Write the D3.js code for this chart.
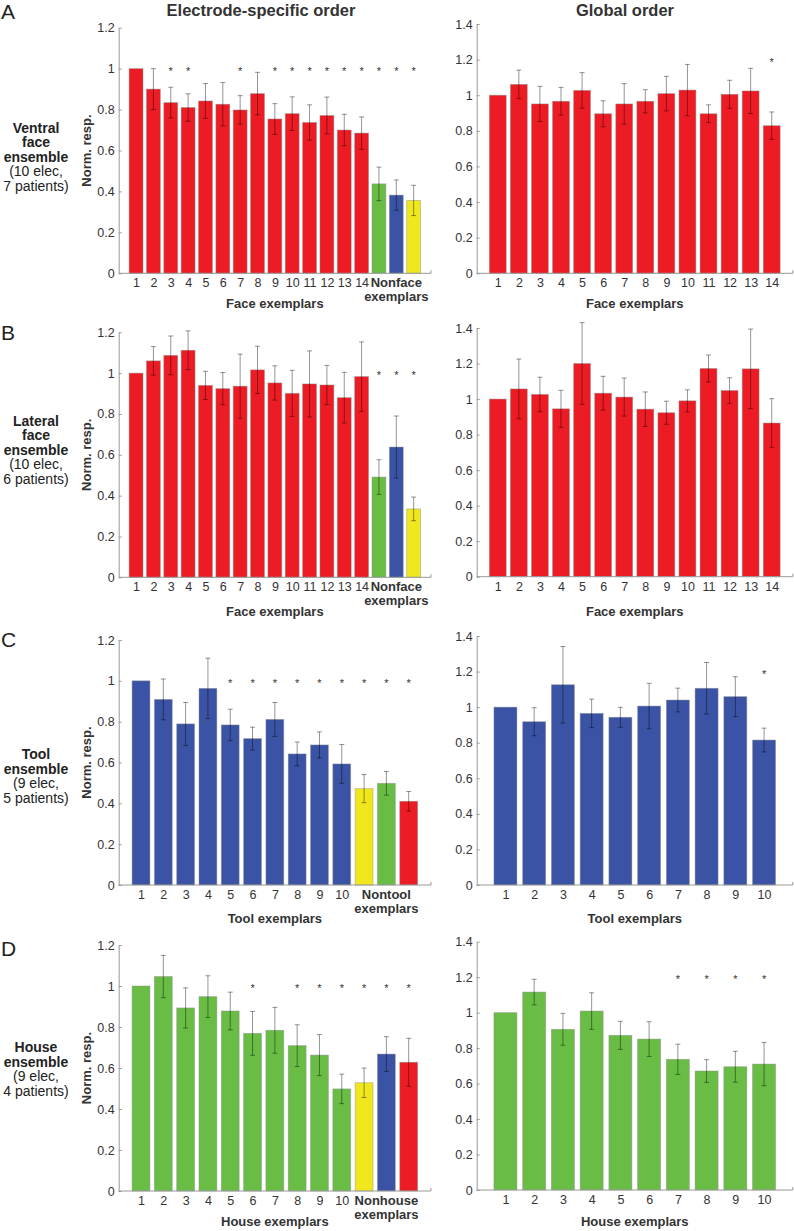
<!DOCTYPE html>
<html><head><meta charset="utf-8">
<script src="https://cdn.jsdelivr.net/npm/d3@7"></script>
<style>body{margin:0;background:#fff;} svg{display:block;font-family:"Liberation Sans",Arial,sans-serif;}</style>
</head><body><svg id="c" width="794" height="1231"></svg>
<script>
// ---------- DATA ----------
const faceTicks = ["1","2","3","4","5","6","7","8","9","10","11","12","13","14"];
const objTicks = ["1","2","3","4","5","6","7","8","9","10"];

// A: Ventral face ensemble
const aLeftValues = [1.0,0.90,0.834,0.81,0.842,0.826,0.798,0.878,0.754,0.78,0.737,0.771,0.70,0.685,0.437,0.382,0.356];
const aLeftErrors = [0,0.10,0.075,0.067,0.085,0.106,0.07,0.104,0.075,0.082,0.086,0.09,0.077,0.079,0.082,0.074,0.074];
const aLeftCats = ["face","face","face","face","face","face","face","face","face","face","face","face","face","face","house","tool","other"];
const aLeftStars = [3,4,7,9,10,11,12,13,14,15,16,17];
const aRightValues = [1.0,1.061,0.951,0.966,1.027,0.896,0.951,0.966,1.009,1.029,0.896,1.005,1.024,0.829];
const aRightErrors = [0,0.08,0.099,0.078,0.10,0.073,0.114,0.065,0.097,0.144,0.05,0.079,0.127,0.077];
const aRightStars = [14];

// B: Lateral face ensemble
const bLeftValues = [1.0,1.06,1.087,1.112,0.94,0.924,0.936,1.016,0.952,0.901,0.947,0.942,0.88,0.983,0.491,0.638,0.335];
const bLeftErrors = [0,0.07,0.095,0.095,0.069,0.079,0.157,0.116,0.084,0.113,0.162,0.096,0.124,0.17,0.085,0.152,0.058];
const bLeftCats = ["face","face","face","face","face","face","face","face","face","face","face","face","face","face","house","tool","other"];
const bLeftStars = [15,16,17];
const bRightValues = [1.0,1.057,1.026,0.945,1.2,1.033,1.011,0.943,0.923,0.99,1.172,1.048,1.17,0.865];
const bRightErrors = [0,0.168,0.097,0.104,0.23,0.095,0.107,0.097,0.065,0.062,0.076,0.072,0.224,0.137];
const bRightStars = [];

// C: Tool ensemble
const cLeftValues = [1.0,0.909,0.789,0.963,0.784,0.717,0.811,0.642,0.686,0.593,0.472,0.498,0.41];
const cLeftErrors = [0,0.10,0.105,0.148,0.077,0.056,0.083,0.058,0.064,0.095,0.069,0.058,0.048];
const cLeftCats = ["tool","tool","tool","tool","tool","tool","tool","tool","tool","tool","other","house","face"];
const cLeftStars = [5,6,7,8,9,10,11,12,13];
const cRightValues = [1.0,0.918,1.126,0.965,0.943,1.006,1.04,1.106,1.059,0.815];
const cRightErrors = [0,0.079,0.215,0.08,0.056,0.128,0.067,0.145,0.112,0.067];
const cRightStars = [10];

// D: House ensemble
const dLeftValues = [1.0,1.046,0.893,0.948,0.878,0.769,0.784,0.709,0.663,0.498,0.528,0.668,0.628];
const dLeftErrors = [0,0.103,0.098,0.102,0.092,0.107,0.112,0.102,0.10,0.072,0.072,0.085,0.117];
const dLeftCats = ["house","house","house","house","house","house","house","house","house","house","other","tool","face"];
const dLeftStars = [6,8,9,10,11,12,13];
const dRightValues = [1.0,1.116,0.906,1.009,0.872,0.851,0.737,0.671,0.695,0.71];
const dRightErrors = [0,0.072,0.09,0.103,0.079,0.098,0.085,0.064,0.087,0.122];
const dRightStars = [7,8,9,10];

const leftYTicks = [0,0.2,0.4,0.6,0.8,1,1.2];
const rightYTicks = [0,0.2,0.4,0.6,0.8,1,1.2,1.4];

const colorOf = {face:"#ED1C24", tool:"#3A53A4", house:"#69BD45", other:"#F0E81C"};

// ---------- LAYOUT ----------
const rows = [
  {letter:"A", letterY:11, lTop:27.7, lBot:273.3, rTop:24, rBot:273.3, labelY0:127.7,
   label:[["Ventral",1],["face",1],["ensemble",1],["(10 elec,",0],["7 patients)",0]],
   xTitle:"Face exemplars", otherTitle:"Nonface", xTitleY:303, ticks:faceTicks, main:"face",
   left:{v:aLeftValues,e:aLeftErrors,c:aLeftCats,s:aLeftStars},
   right:{v:aRightValues,e:aRightErrors,s:aRightStars}},
  {letter:"B", letterY:332, lTop:332.3, lBot:577.3, rTop:328, rBot:576.7, labelY0:420.7,
   label:[["Lateral",1],["face",1],["ensemble",1],["(10 elec,",0],["6 patients)",0]],
   xTitle:"Face exemplars", otherTitle:"Nonface", xTitleY:611, ticks:faceTicks, main:"face",
   left:{v:bLeftValues,e:bLeftErrors,c:bLeftCats,s:bLeftStars},
   right:{v:bRightValues,e:bRightErrors,s:bRightStars}},
  {letter:"C", letterY:639, lTop:640, lBot:885, rTop:636, rBot:885, labelY0:754,
   label:[["Tool",1],["ensemble",1],["(9 elec,",0],["5 patients)",0]],
   xTitle:"Tool exemplars", otherTitle:"Nontool", xTitleY:918, ticks:objTicks, main:"tool",
   left:{v:cLeftValues,e:cLeftErrors,c:cLeftCats,s:cLeftStars},
   right:{v:cRightValues,e:cRightErrors,s:cRightStars}},
  {letter:"D", letterY:948, lTop:945, lBot:1191, rTop:941.7, rBot:1190, labelY0:1047.3,
   label:[["House",1],["ensemble",1],["(9 elec,",0],["4 patients)",0]],
   xTitle:"House exemplars", otherTitle:"Nonhouse", xTitleY:1221.7, ticks:objTicks, main:"house",
   left:{v:dLeftValues,e:dLeftErrors,c:dLeftCats,s:dLeftStars},
   right:{v:dRightValues,e:dRightErrors,s:dRightStars}}
];

const svg = d3.select("#c");
const TXT = "#333";
const AX = "#999";

svg.append("text").attr("x",261).attr("y",10).attr("text-anchor","middle").attr("dominant-baseline","central")
  .attr("font-weight","bold").attr("font-size",16.5).attr("fill","#333").text("Electrode-specific order");
svg.append("text").attr("x",625).attr("y",10).attr("text-anchor","middle").attr("dominant-baseline","central")
  .attr("font-weight","bold").attr("font-size",16.5).attr("fill","#333").text("Global order");

function drawPanel(g, cfg) {
  const {x0,x1,top,bot,yMax,yTicks,values,errors,cats,stars,starVal,ticks,xTitle,xTitleY,otherTitle} = cfg;
  const n = values.length;
  const x = d3.scaleLinear().domain([0,n+1]).range([x0,x1]);
  const y = d3.scaleLinear().domain([0,yMax]).range([bot,top]);
  const bw = x(0.8)-x(0);

  // bars
  g.selectAll("rect.bar").data(values).join("rect").attr("class","bar")
    .attr("x",(d,i)=>x(i+1)-bw/2).attr("width",bw)
    .attr("y",d=>y(d)).attr("height",d=>y(0)-y(d))
    .attr("fill",(d,i)=>colorOf[cats[i]])
    .attr("stroke","rgba(140,140,140,0.55)").attr("stroke-width",0.8);

  // error bars
  const eb = g.selectAll("g.eb").data(values.map((v,i)=>({v,e:errors[i],i})).filter(d=>d.e>0)).join("g").attr("class","eb")
    .attr("stroke","#000").attr("stroke-opacity",0.42).attr("stroke-width",1);
  eb.append("line").attr("x1",d=>x(d.i+1)).attr("x2",d=>x(d.i+1)).attr("y1",d=>y(d.v+d.e)).attr("y2",d=>y(d.v-d.e));
  eb.append("line").attr("x1",d=>x(d.i+1)-2.5).attr("x2",d=>x(d.i+1)+2.5).attr("y1",d=>y(d.v+d.e)).attr("y2",d=>y(d.v+d.e));
  eb.append("line").attr("x1",d=>x(d.i+1)-2.5).attr("x2",d=>x(d.i+1)+2.5).attr("y1",d=>y(d.v-d.e)).attr("y2",d=>y(d.v-d.e));

  // stars
  g.selectAll("text.star").data(stars).join("text").attr("class","star")
    .attr("x",d=>x(d)).attr("y",y(starVal)+6).attr("text-anchor","middle")
    .attr("font-size",11).attr("fill","#333").text("*");

  // y axis
  const ya = g.append("g").attr("transform",`translate(${x0},0)`)
    .call(d3.axisLeft(y).tickValues(yTicks).tickFormat(v=>String(+v.toFixed(1))).tickSizeInner(-3).tickSizeOuter(0).tickPadding(4));
  ya.select(".domain").attr("stroke",AX);
  ya.selectAll(".tick line").attr("stroke",AX);
  ya.selectAll("text").attr("font-size",12.5).attr("fill",TXT).attr("font-family","Liberation Sans, Arial, sans-serif");

  // x axis (numbered exemplars)
  const xa = g.append("g").attr("transform",`translate(0,${bot})`)
    .call(d3.axisBottom(x).tickValues(ticks.map((t,i)=>i+1)).tickFormat((d,i)=>ticks[i]).tickSize(0).tickPadding(5));
  xa.select(".domain").remove();
  xa.selectAll("text").attr("font-size",12.5).attr("fill",TXT).attr("font-family","Liberation Sans, Arial, sans-serif");
  g.append("line").attr("x1",x.range()[0]).attr("x2",x.range()[1]).attr("y1",bot).attr("y2",bot).attr("stroke",AX);
  g.append("line").attr("x1",x.range()[1]).attr("x2",x.range()[1]).attr("y1",bot).attr("y2",bot-3).attr("stroke",AX);

  // x title
  g.append("text").attr("x",(x0+x1)/2).attr("y",xTitleY).attr("text-anchor","middle").attr("dominant-baseline","central")
    .attr("font-weight","bold").attr("font-size",13).attr("fill",TXT).text(xTitle);

  if (otherTitle) {
    const cx = x(n-1);
    g.append("text").attr("x",cx).attr("y",bot+9.5).attr("text-anchor","middle").attr("dominant-baseline","central")
      .attr("font-weight","bold").attr("font-size",13).attr("fill",TXT).text(otherTitle);
    g.append("text").attr("x",cx).attr("y",bot+23.5).attr("text-anchor","middle").attr("dominant-baseline","central")
      .attr("font-weight","bold").attr("font-size",13).attr("fill",TXT).text("exemplars");
    // y axis title
    g.append("text").attr("transform",`translate(86,${(top+bot)/2}) rotate(-90)`).attr("text-anchor","middle")
      .attr("dominant-baseline","central").attr("font-weight","bold").attr("font-size",13).attr("fill",TXT).text("Norm. resp.");
  }
}

rows.forEach(r => {
  const g = svg.append("g");
  g.append("text").attr("x",1).attr("y",r.letterY).attr("dominant-baseline","central")
    .attr("font-size",21).attr("fill","#222").text(r.letter);
  r.label.forEach((l,i)=>{
    g.append("text").attr("x",36).attr("y",r.labelY0+i*14.5).attr("text-anchor","middle").attr("dominant-baseline","central")
      .attr("font-size",14).attr("font-weight",l[1]?"bold":"normal").attr("fill","#222").text(l[0]);
  });
  drawPanel(g.append("g"), {x0:118.7,x1:431,top:r.lTop,bot:r.lBot,yMax:1.2,yTicks:leftYTicks,
    values:r.left.v,errors:r.left.e,cats:r.left.c,stars:r.left.s,starVal:1,ticks:r.ticks,
    xTitle:r.xTitle,xTitleY:r.xTitleY,otherTitle:r.otherTitle});
  drawPanel(g.append("g"), {x0:476.7,x1:792.8,top:r.rTop,bot:r.rBot,yMax:1.4,yTicks:rightYTicks,
    values:r.right.v,errors:r.right.e,cats:r.right.v.map(()=>r.main),stars:r.right.s,starVal:1.2,ticks:r.ticks,
    xTitle:r.xTitle,xTitleY:r.xTitleY,otherTitle:null});
});
</script></body></html>
